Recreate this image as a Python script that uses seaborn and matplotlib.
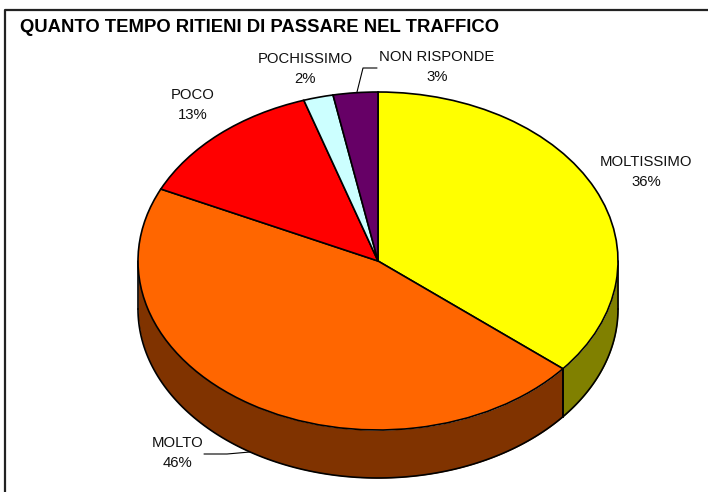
import numpy as np
import matplotlib
matplotlib.use("Agg")
import matplotlib.pyplot as plt
import seaborn as sns

categories = ["MOLTISSIMO", "MOLTO", "POCO", "POCHISSIMO", "NON RISPONDE"]
values = [36, 46, 13, 2, 3]
top_colors = ["#FFFF00", "#FF6600", "#FF0000", "#CCFFFF", "#660066"]
side_colors = ["#808000", "#803300", "#800000", "#668080", "#330033"]
title = "QUANTO TEMPO RITIENI DI PASSARE NEL TRAFFICO"

sns.set_theme(style="white")
plt.rcParams["font.family"] = ["Liberation Sans", "DejaVu Sans"]

W, H = 708, 492
CX, CY, RX, RY, DEPTH = 378, 261, 240, 169, 48
fig = plt.figure(figsize=(W / 100, H / 100), dpi=100, facecolor="white")
ax = fig.add_axes([0, 0, 1, 1])


def px(x, y):
    return (x - CX) / RX, (CY - y) / RY


ax.pie(values, colors=top_colors, startangle=90, counterclock=False, radius=1,
       center=(0, 0), wedgeprops=dict(edgecolor="black", linewidth=1.2, zorder=3))
ax.set_aspect("auto")
ax.set_xlim(px(0, 0)[0], px(W, 0)[0])
ax.set_ylim(px(0, H)[1], px(0, 0)[1])
ax.axis("off")

# side wall of the disc: visible only on the front half
d = DEPTH / RY
shares = np.array(values) / sum(values) * 360
start = 90.0
for share, col in zip(shares, side_colors):
    a0, a1 = start - share, start  # clockwise
    start = a0
    for shift in (0, -360):
        lo = max(a0 - shift, -180)
        hi = min(a1 - shift, 0)
        if hi <= lo:
            continue
        t = np.radians(np.linspace(lo, hi, 120))
        x, y = np.cos(t), np.sin(t)
        ax.fill_between(x, y - d, y, color=col, linewidth=0, zorder=1)
        ax.plot(x, y - d, color="black", lw=1.2, zorder=2)
        ax.plot([x[0], x[0]], [y[0], y[0] - d], color="black", lw=1.2, zorder=2)
        ax.plot([x[-1], x[-1]], [y[-1], y[-1] - d], color="black", lw=1.2, zorder=2)

# data labels
label_pos = [(646, 172), (178, 453), (193, 105), (305, 69), (437, 67)]
for name, v, (lx, ly) in zip(categories, values, label_pos):
    tx, ty = px(lx, ly)
    ax.text(tx, ty, f"{name}\n{v}%", ha="center", va="center", fontsize=10.7,
            color="#111111", linespacing=1.6, zorder=5)

# leader lines
for seg in ([(377, 68), (363, 68), (357, 92)], [(204, 454), (227, 454), (250, 452)]):
    pts = np.array([px(*p) for p in seg])
    ax.plot(pts[:, 0], pts[:, 1], color="black", lw=0.8, zorder=4)

# title and chart frame
tx, ty = px(20, 28)
ax.text(tx, ty, title, ha="left", va="center", fontsize=13.3, fontweight="bold",
        color="black", zorder=5)
fx = [px(5, 0)[0], px(5, 0)[0], px(W, 0)[0]]
fy = [px(0, H)[1], px(0, 10)[1], px(0, 10)[1]]
ax.plot(fx, fy, color="#222222", lw=1.6, zorder=5, clip_on=False)

fig.savefig("out.png", dpi=100, facecolor="white")
